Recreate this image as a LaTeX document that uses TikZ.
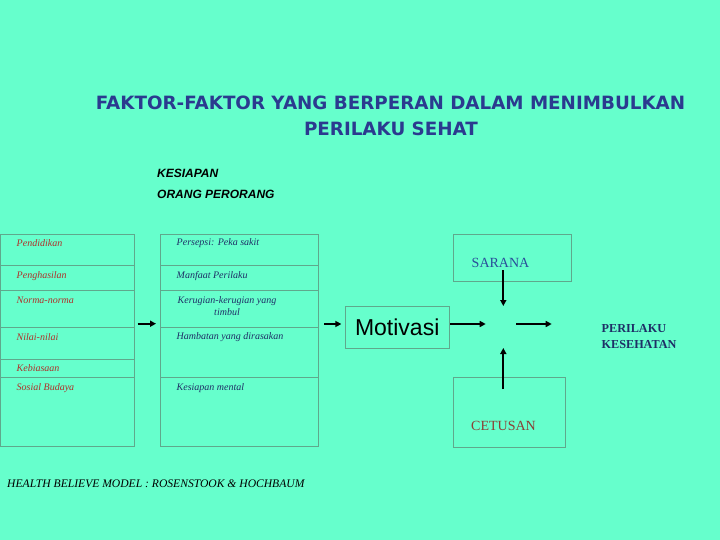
\documentclass[tikz,border=0pt]{standalone}
\usepackage{fontspec}
\setmainfont{Liberation Serif}
\setsansfont{Liberation Sans}
\newfontfamily\titlefont{DejaVu Sans}
\usetikzlibrary{arrows.meta,calc}
\definecolor{bg}{HTML}{66FFCC}
\definecolor{titleblue}{HTML}{2B3A8F}
\definecolor{boxline}{HTML}{5FA88C}
\definecolor{redtxt}{HTML}{B0302A}
\definecolor{navytxt}{HTML}{1E2F66}
\definecolor{sarblue}{HTML}{2A4D9A}
\definecolor{cetred}{HTML}{8A4036}
\begin{document}
\begin{tikzpicture}[x=1pt,y=-1pt,
  title/.style={font=\titlefont\bfseries\fontsize{18.3}{22}\selectfont, text=titleblue, inner sep=0pt},
  kes/.style={font=\sffamily\bfseries\itshape\fontsize{12}{14}\selectfont, anchor=west, inner sep=0pt},
  lefttxt/.style={font=\itshape\fontsize{10}{12}\selectfont, text=redtxt, anchor=west, inner sep=0pt},
  righttxt/.style={font=\itshape\fontsize{10}{12}\selectfont, text=navytxt, anchor=west, inner sep=0pt},
  cellline/.style={draw=boxline, line width=0.8pt},
  box/.style={draw=boxline, line width=0.8pt, inner sep=0pt},
  arr/.style={-{Triangle[length=6pt,width=6pt]}, line width=1.8pt, black}
]
\fill[bg] (0,0) rectangle (720,540);
\useasboundingbox (0,0) rectangle (720,540);

% title
\node[title] (t1) at (390.5,103) {FAKTOR-FAKTOR YANG BERPERAN DALAM MENIMBULKAN};
\node[title] (t2) at (391,129) {PERILAKU SEHAT};

\node[kes] (k1) at (157,173) {KESIAPAN};
\node[kes] (k2) at (157,194) {ORANG PERORANG};

% left column table
\node[box, minimum width=134.2, minimum height=212.7] (leftcol) at (67.6,340.35) {};
\foreach \yy in {265.7,290,327,359,377}
  \draw[cellline] (0.5,\yy) -- (134.7,\yy);

% right column table
\node[box, minimum width=158.7, minimum height=212.7] (rightcol) at (239.35,340.35) {};
\foreach \yy in {265.7,290,327,377}
  \draw[cellline] (160,\yy) -- (318.7,\yy);

\node[lefttxt] (l1) at (16.5,243) {Pendidikan};
\node[lefttxt] (l2) at (16.5,275.7) {Penghasilan};
\node[lefttxt] (l3) at (16.5,300.7) {Norma-norma};
\node[lefttxt] (l4) at (16.5,336.7) {Nilai-nilai};
\node[lefttxt] (l5) at (16.5,367.7) {Kebiasaan};
\node[lefttxt] (l6) at (16.5,387.7) {Sosial Budaya};

\node[righttxt] (r1) at (176.5,243) {Persepsi: Peka sakit};
\node[righttxt] (r2) at (176.5,275.7) {Manfaat Perilaku};
\node[font=\itshape\fontsize{10}{12}\selectfont, text=navytxt, align=center, inner sep=0pt] (r3) at (227,306.5) {Kerugian-kerugian yang\\timbul};
\node[righttxt] (r4) at (176.5,336.7) {Hambatan yang dirasakan};
\node[righttxt] (r5) at (176.5,387.7) {Kesiapan mental};

% Motivasi
\node[box, minimum width=104.3, minimum height=42, font=\sffamily\fontsize{23}{26}\selectfont] (mot) at (397.2,327.3) {Motivasi};

% SARANA and CETUSAN
\node[box, minimum width=118.4, minimum height=47.4] (sar) at (512.5,258) {};
\node[font=\fontsize{14}{16}\selectfont, text=sarblue, inner sep=0pt] (sart) at (500.5,263) {SARANA};
\node[box, minimum width=112.4, minimum height=70.7] (cet) at (509.5,412.3) {};
\node[font=\fontsize{14}{16}\selectfont, text=cetred, inner sep=0pt] (cett) at (503.5,426) {CETUSAN};

% PERILAKU KESEHATAN
\node[font=\bfseries\fontsize{12.2}{16}\selectfont, text=navytxt, align=left, anchor=west, inner sep=0pt] (per) at (601.5,336.5) {PERILAKU\\KESEHATAN};

% footer
\node[font=\itshape\fontsize{11.6}{13}\selectfont, anchor=west, inner sep=0pt] (foot) at (7,484) {HEALTH BELIEVE MODEL : ROSENSTOOK \& HOCHBAUM};

% junction and free ends
\coordinate (c) at (503.3,324);
\coordinate (a1) at (137.7,323.7);
\coordinate (a2) at (156,323.7);
\coordinate (pe) at (551.7,324);
\coordinate (s1) at (503.3,270);
\coordinate (e1) at (503.3,389);

% arrows
\draw[arr] (a1) -- (a2);
\draw[arr, shorten <=5.3pt, shorten >=3.3pt] (rightcol.east |- c) -- (mot.west |- c);
\draw[arr, shorten <=0.6pt, shorten >=17.6pt] (mot.east |- c) -- (c);
\draw[arr, shorten <=12.7pt] (c) -- (pe);
\draw[arr, shorten >=18pt] (s1) -- (c);
\draw[arr, shorten >=24pt] (e1) -- (c);
\end{tikzpicture}
\end{document}
